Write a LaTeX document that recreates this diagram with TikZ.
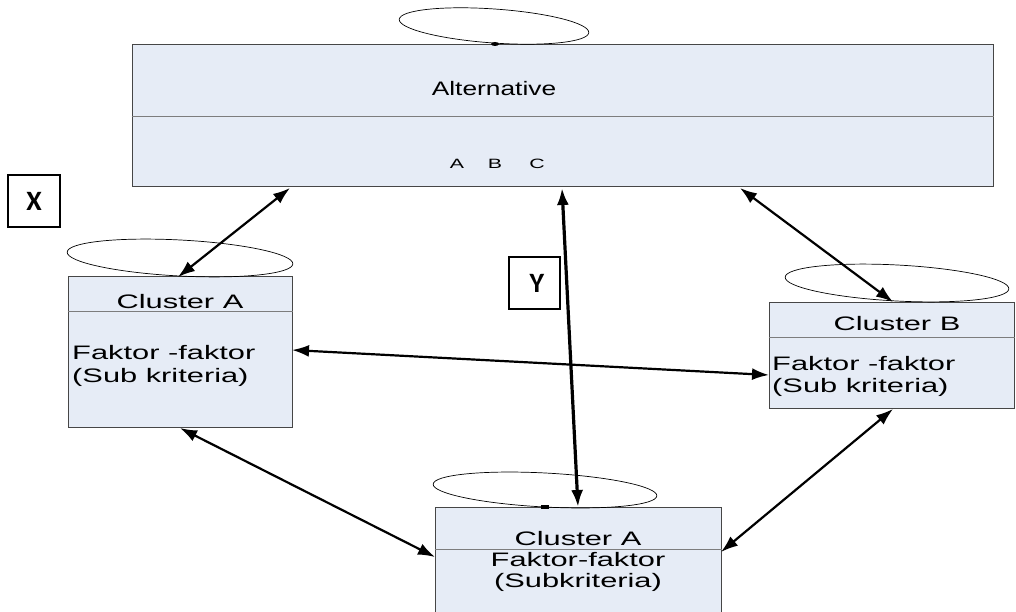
\documentclass[tikz,border=0pt]{standalone}
\usepackage{fontspec}
\setmainfont{Liberation Sans}[FakeStretch=1.58]
\newfontfamily\altfont{Liberation Sans}[FakeStretch=1.35]
\newfontfamily\tagfont{Carlito}
\usetikzlibrary{arrows.meta}
\definecolor{boxfill}{RGB}{230,236,246}
\definecolor{boxline}{RGB}{70,70,70}
\definecolor{midline}{RGB}{125,125,125}

\begin{document}
\begin{tikzpicture}[x=1pt, y=-1pt,
  box/.style={fill=boxfill, draw=boxline, line width=1pt, inner sep=0pt},
  split/.style={draw=midline, line width=0.9pt},
  loop/.style={draw=black, line width=0.7pt},
  link/.style={{Latex[length=17pt,width=12pt]}-{Latex[length=17pt,width=12pt]}, line width=2.2pt},
  txt/.style={inner sep=0pt, font=\fontsize{19.5}{23}\selectfont},
  tag/.style={draw, line width=1.3pt, minimum width=52pt, minimum height=52pt, inner sep=0pt}]

  \useasboundingbox (0,0) rectangle (1016,612);

  \newcommand\TagFont{\tagfont\bfseries\fontsize{28}{28}\selectfont}

  % boxes
  \node[box, minimum width=861pt, minimum height=142pt] (alt) at (562.5,116) {};
  \node[box, minimum width=224pt, minimum height=151pt] (clA) at (180,351.5) {};
  \node[box, minimum width=245pt, minimum height=106pt] (clB) at (891.5,355) {};
  \node[box, minimum width=286pt, minimum height=109pt] (bot) at (578,561.5) {};

  \draw[split] (alt.west) -- (alt.east);
  \draw[split] ([yshift=-36pt]clA.north west) -- ([yshift=-36pt]clA.north east);
  \draw[split] ([yshift=-36pt]clB.north west) -- ([yshift=-36pt]clB.north east);
  \draw[split] ([yshift=-43pt]bot.north west) -- ([yshift=-43pt]bot.north east);

  % texts
  \node[txt, anchor=base, font=\altfont\fontsize{19.5}{23}\selectfont] (altT) at (494,96) {Alternative};
  \node[txt, anchor=base, font=\fontsize{13.5}{13.5}\selectfont] (optA) at (457,169) {A};
  \node[txt, anchor=base, font=\fontsize{13.5}{13.5}\selectfont] (optB) at (495,169) {B};
  \node[txt, anchor=base, font=\fontsize{13.5}{13.5}\selectfont] (optC) at (537,169) {C};

  \node[txt, anchor=base] (clAT) at (180,308) {Cluster A};
  \node[txt, anchor=base west] (clAF) at (72,359) {Faktor -faktor};
  \node[txt, anchor=base west] (clAS) at (72,382) {(Sub kriteria)};

  \node[txt, anchor=base] (clBT) at (897,330) {Cluster B};
  \node[txt, anchor=base west] (clBF) at (772,370) {Faktor -faktor};
  \node[txt, anchor=base west] (clBS) at (772,392) {(Sub kriteria)};

  \node[txt, anchor=base] (botT) at (578,545) {Cluster A};
  \node[txt, anchor=base] (botF) at (578,566) {Faktor-faktor};
  \node[txt, anchor=base] (botS) at (578,587) {(Subkriteria)};

  \node[tag, font=\TagFont] (tagX) at (34,201) {X};
  \node[tag, minimum width=51pt, font=\TagFont] (tagY) at (534.5,283) {\hspace{5pt}Y};

  % loops
  \draw[loop, rotate around={-4:(494,26)}] (494,26) ellipse [x radius=95, y radius=17];
  \draw[loop, rotate around={-3:(180,258)}] (180,258) ellipse [x radius=113, y radius=18];
  \draw[loop, rotate around={-3:(897,283)}] (897,283) ellipse [x radius=112, y radius=18];
  \draw[loop, rotate around={-3:(545,490)}] (545,490) ellipse [x radius=112, y radius=17];
  \fill (495,44) ellipse [x radius=4, y radius=2];
  \fill (541,505) rectangle (549,509);

  % connector ends
  \coordinate (altL) at (290,188);
  \coordinate (altM) at (562,188);
  \coordinate (altR) at (740,188);
  \coordinate (clAtop) at (178,277);
  \coordinate (clAright) at (292,350);
  \coordinate (clAbot) at (180,428);
  \coordinate (clBtop) at (893,302);
  \coordinate (clBleft) at (769,375);
  \coordinate (clBbot) at (893,409);
  \coordinate (botTop) at (578,507);
  \coordinate (botLeft) at (435,557);
  \coordinate (botRight) at (721,552);

  \draw[link] (altL) -- (clAtop); %% alt->A
  \draw[link] (altR) -- (clBtop); %% alt->B
  \draw[link, line width=3.2pt] (altM) -- (botTop); %% alt->bottom
  \draw[link] (clAright) -- (clBleft); %% A->B
  \draw[link] (clAbot) -- (botLeft); %% A->bottom
  \draw[link] (clBbot) -- (botRight); %% B->bottom
\end{tikzpicture}
\end{document}
